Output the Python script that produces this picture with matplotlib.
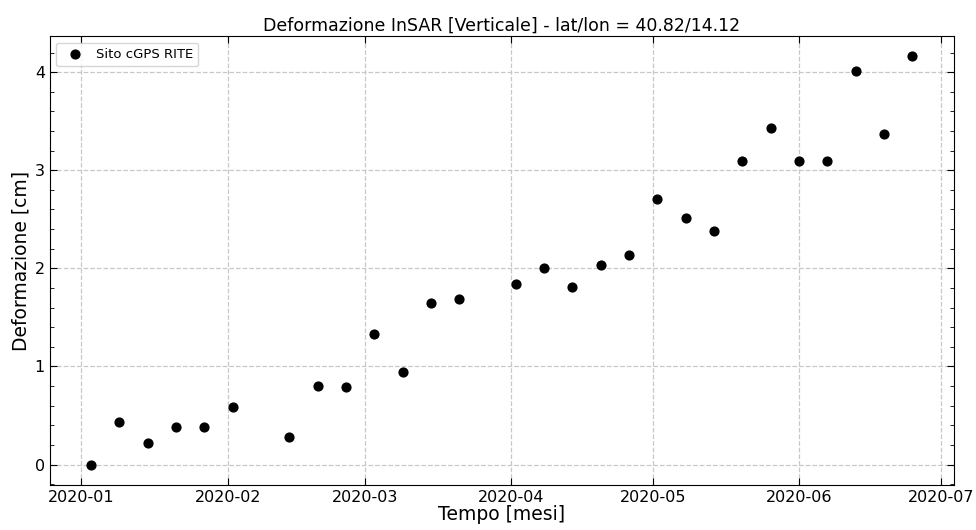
import numpy as np
import pandas as pd
import matplotlib
matplotlib.use("Agg")
import matplotlib.pyplot as plt
import matplotlib.dates as mdates
from matplotlib.ticker import AutoMinorLocator

# acquisition dates (6-day revisit, two gaps) and vertical deformation in cm
dates = pd.to_datetime([
    "2020-01-03", "2020-01-09", "2020-01-15", "2020-01-21", "2020-01-27",
    "2020-02-02", "2020-02-14", "2020-02-20", "2020-02-26", "2020-03-03",
    "2020-03-09", "2020-03-15", "2020-03-21", "2020-04-02", "2020-04-08",
    "2020-04-14", "2020-04-20", "2020-04-26", "2020-05-02", "2020-05-08",
    "2020-05-14", "2020-05-20", "2020-05-26", "2020-06-01", "2020-06-07",
    "2020-06-13", "2020-06-19", "2020-06-25",
])
deform_cm = [
    0.00, 0.43, 0.22, 0.38, 0.38,
    0.59, 0.28, 0.80, 0.79, 1.33,
    0.94, 1.65, 1.69, 1.84, 2.00,
    1.81, 2.03, 2.14, 2.71, 2.51,
    2.38, 3.09, 3.43, 3.09, 3.09,
    4.01, 3.37, 4.16,
]
site_label = "Sito cGPS RITE"
title = "Deformazione InSAR [Verticale] - lat/lon = 40.82/14.12"

fig = plt.figure(figsize=(9.76, 5.3), dpi=100)
ax = fig.add_axes([0.051, 0.085, 0.926, 0.847])

ax.scatter(dates, deform_cm, s=40, color="black", label=site_label, zorder=3)

ax.xaxis.set_major_locator(mdates.MonthLocator())
ax.xaxis.set_major_formatter(mdates.DateFormatter("%Y-%m"))
ax.yaxis.set_minor_locator(AutoMinorLocator(5))
ax.tick_params(which="both", direction="in", top=True, right=True, labelsize=11.5)
ax.tick_params(which="major", length=5)
ax.tick_params(which="minor", length=3)

ax.grid(True, linestyle="--", color="#c8c8c8", linewidth=0.9)
ax.set_axisbelow(True)

ax.set_xlabel("Tempo [mesi]", fontsize=13.5, labelpad=0)
ax.set_ylabel("Deformazione [cm]", fontsize=13.5, labelpad=3)
ax.set_title(title, fontsize=12.5, pad=4)
ax.legend(loc="upper left", fontsize=9.5, handletextpad=0.6)

fig.savefig("out.png", dpi=100)
